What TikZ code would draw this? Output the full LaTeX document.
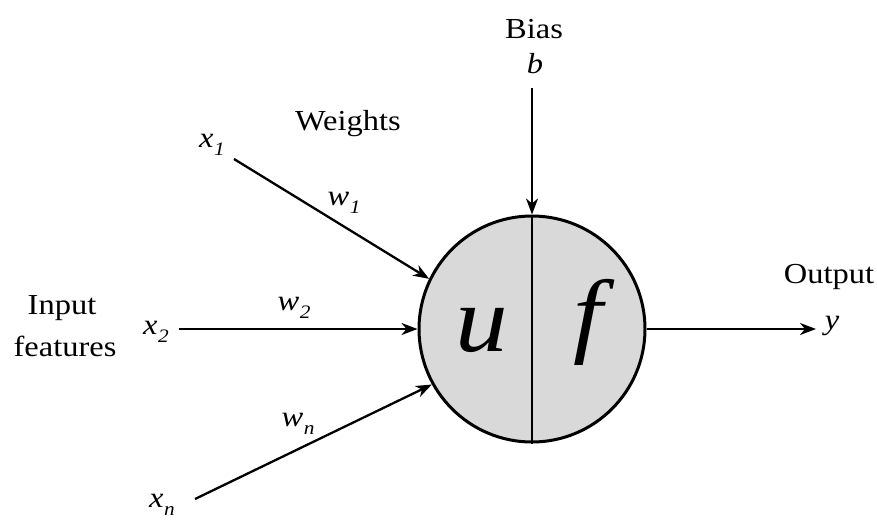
\documentclass[tikz,border=0pt]{standalone}
\usepackage{fontspec}
\setmainfont[FakeStretch=1.12]{Liberation Serif}
\usetikzlibrary{arrows.meta}
\newcommand{\vsub}[2]{\textit{#1}\kern0.5pt\raisebox{-0.28em}{\fontsize{19}{19}\selectfont\textit{#2}}}
\tikzset{
  lbl/.style={font=\fontsize{29}{31}\selectfont, inner sep=0pt},
  var/.style={font=\fontsize{29}{31}\selectfont, inner sep=0pt},
  conn/.style={line width=2.3pt, -{Stealth[length=16pt,width=12pt,inset=5pt]}},
  neuron/.style={circle, draw, line width=3pt, fill=gray!30, minimum size=226pt, inner sep=0pt},
  big/.style={font=\fontsize{94}{94}\selectfont\itshape, inner sep=0pt}
}
\begin{document}
\begin{tikzpicture}[x=1pt,y=-1pt]
\useasboundingbox (0,0) rectangle (877,520);
\node[neuron] (n) at (532,329) {};
\draw[line width=2pt] (n.north) -- (n.south);
\node[big] (u) at (482,330) {u};
\node[big] (f) at (588,322) {f};

\node[lbl] (bias) at (534,29) {Bias};
\node[var] (b) at (535,64) {\textit{b}};
\coordinate (bs) at (532,88);
\draw[conn] (bs) -- (n.north);

\node[lbl] (weights) at (348,124) {Weights};

\node[var] (x1) at (212,145) {\vsub{x}{1}};
\coordinate (x1s) at (234,159);
\draw[conn] (x1s) -- (n.154);
\node[var] (w1) at (344,203) {\vsub{w}{1}};

\node[lbl] (input) at (62,308) {Input};
\node[lbl] (feat) at (65,346) {features};
\node[var] (x2) at (156,332) {\vsub{x}{2}};
\coordinate (x2s) at (179,329);
\draw[conn] (x2s) -- (n.west);
\node[var] (w2) at (294,308) {\vsub{w}{2}};

\node[var] (wn) at (298,424) {\vsub{w}{n}};
\node[var] (xn) at (162,505) {\vsub{x}{n}};
\coordinate (xns) at (195,499);
\draw[conn] (xns) -- (n.209);

\node[lbl] (output) at (829,277) {Output};
\node[var] (y) at (832,326) {\textit{y}};
\coordinate (ye) at (816,329);
\draw[conn] (n.east) -- (ye);
\end{tikzpicture}
\end{document}
